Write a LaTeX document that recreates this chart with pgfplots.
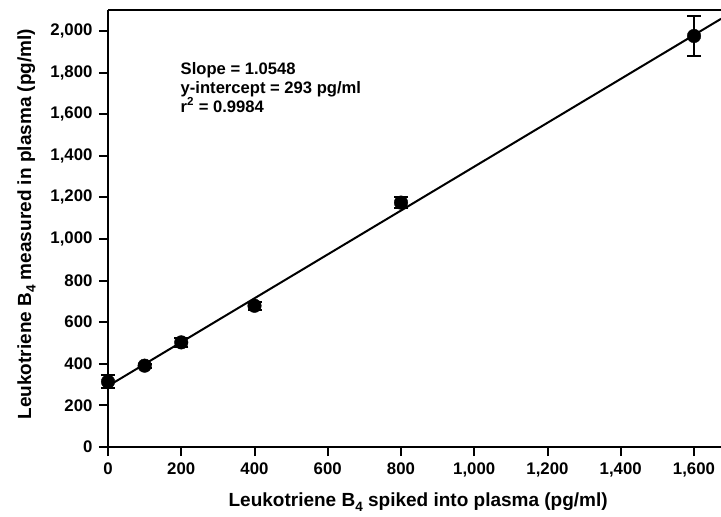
\documentclass[border=0pt]{standalone}
\usepackage{fontspec}
\setmainfont{Liberation Sans}
\usepackage{pgfplots}
\pgfplotsset{compat=1.18}
\newcommand{\sub}[1]{\raisebox{-0.45ex}{\fontsize{13.5}{13.5}\selectfont #1}}
\begin{document}
\begin{tikzpicture}
\begin{axis}[
  at={(0,0)}, anchor=south west,
  scale only axis,
  width=613pt, height=437pt,
  xmin=0, xmax=1673.7,
  ymin=0, ymax=2101,
  axis x line*=box, axis y line*=left,
  axis line style={line width=2pt, black, -},
  xtick={0,200,...,1600},
  ytick={0,200,...,2000},
  xtick pos=bottom, ytick pos=left,
  tick align=outside,
  major tick length=9pt,
  tick style={line width=2pt, black},
  /pgf/number format/assume math mode=true,
  /pgf/number format/1000 sep={,},
  tick label style={font=\bfseries\fontsize{16.8}{19}\selectfont},
  xticklabel style={yshift=-3pt},
  yticklabel style={xshift=-3pt},
  xlabel={Leukotriene B\sub{4} spiked into plasma (pg/ml)},
  ylabel={Leukotriene B\sub{4} measured in plasma (pg/ml)},
  label style={font=\bfseries\fontsize{19}{21}\selectfont},
  xlabel style={at={(axis description cs:0.506,-0.126)}, anchor=center},
  ylabel style={at={(axis description cs:-0.133,0.51)}, anchor=center, rotate=0},
  clip=false,
]
\addplot[black, line width=2pt, no marks] coordinates {(0,293) (1673.7,2058.5)};
\addplot[black, only marks, mark=*, mark size=6.8pt,
  error bars/.cd, y dir=both, y explicit,
  error bar style={line width=2pt, black},
  error mark options={rotate=90, mark size=7pt, line width=2pt, black}]
  coordinates {
  (0,314) +- (0,30)
  (100,391) +- (0,10)
  (200,503) +- (0,20)
  (400,679) +- (0,18)
  (800,1175) +- (0,25)
  (1600,1976) +- (0,95)
};
\node[anchor=north west, align=left, inner sep=0pt,
  font=\bfseries\fontsize{16.6}{19}\selectfont]
  at (axis cs:198,1852) {Slope = 1.0548\\y-intercept = 293 pg/ml\\r\textsuperscript{2} = 0.9984};
\end{axis}
\pgfresetboundingbox
\path[use as bounding box] (-108pt,-70pt) rectangle (613pt,447pt);
\end{tikzpicture}
\end{document}
